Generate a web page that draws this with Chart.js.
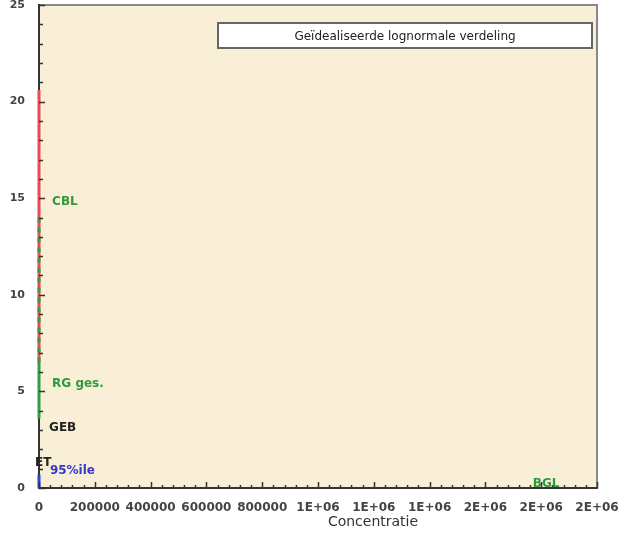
<!DOCTYPE html>
<html>
<head>
<meta charset="utf-8">
<script src="https://cdn.jsdelivr.net/npm/chart.js@4"></script>
<style>
  body { margin: 0; background: #fff; overflow: hidden; }
  canvas { display: block; }
</style>
</head>
<body>
<canvas id="myChart" width="640" height="536"></canvas>
<script>
// tick labels as printed on the x axis (every 200000)
let xTickLabels = ['0', '200000', '400000', '600000', '800000', '1E+06', '1E+06', '1E+06', '2E+06', '2E+06', '2E+06'];
let yTickValues = [0, 5, 10, 15, 20, 25];

// vertical segments drawn at concentration 0
let redY = [6.5, 20.6];
let greenY = [3.6, 6.5, 14.2];
let blueY = [0, 0.7];

// text markers
let markerNames = ['CBL', 'RG ges.', 'GEB', 'ET', '95%ile', 'BGL'];
let markerX = [47000, 47000, 36000, -14000, 39000, 1770000];
let markerY = [14.8, 5.4, 3.1, 1.3, 0.9, 0.2];

let legendText = 'Geïdealiseerde lognormale verdeling';
let xTitle = 'Concentratie';

let markerColors = ['#2f9a3c', '#2f9a3c', '#222', '#222', '#3438c8', '#2f9a3c'];

let decorations = {
    id: 'decorations',
    beforeDraw(chart) {
        let c = chart.ctx, a = chart.chartArea;
        c.save();
        c.fillStyle = '#f9efd7';
        c.fillRect(a.left, a.top, a.right - a.left, a.bottom - a.top);
        c.strokeStyle = '#888';
        c.lineWidth = 2;
        c.beginPath();
        c.moveTo(a.left, a.top);
        c.lineTo(a.right, a.top);
        c.lineTo(a.right, a.bottom);
        c.stroke();
        c.restore();
    },
    afterDraw(chart) {
        let c = chart.ctx, a = chart.chartArea;
        let xs = chart.scales.x, ys = chart.scales.y;
        c.save();
        c.strokeStyle = '#333';
        c.lineWidth = 1.5;
        c.beginPath();
        // y ticks, pointing into the plot
        for (let v = 0; v <= 25; v++) {
            let py = Math.round(ys.getPixelForValue(v)) + 0.5;
            let len = v % 5 === 0 ? 6 : 4;
            c.moveTo(a.left, py);
            c.lineTo(a.left + len, py);
        }
        // x ticks, pointing up
        for (let v = 0; v <= 2000000; v += 40000) {
            let px = Math.round(xs.getPixelForValue(v)) + 0.5;
            let len = v % 200000 === 0 ? 6 : 3;
            c.moveTo(px, a.bottom);
            c.lineTo(px, a.bottom - len);
        }
        c.stroke();

        // markers
        c.font = 'bold 12px "DejaVu Sans"';
        c.textAlign = 'left';
        c.textBaseline = 'middle';
        markerNames.forEach((name, i) => {
            c.fillStyle = markerColors[i];
            c.fillText(name, xs.getPixelForValue(markerX[i]), ys.getPixelForValue(markerY[i]));
        });

        // legend box
        let bx = a.left + 179, by = a.top + 18, bw = 374, bh = 25;
        c.fillStyle = '#fff';
        c.fillRect(bx, by, bw, bh);
        c.strokeStyle = '#666';
        c.lineWidth = 2;
        c.strokeRect(bx, by, bw, bh);
        c.fillStyle = '#222';
        c.font = '12px "DejaVu Sans"';
        c.textAlign = 'center';
        c.fillText(legendText, bx + bw / 2, by + bh / 2 + 1);

        // x axis title
        c.font = '14px "DejaVu Sans"';
        c.fillStyle = '#333';
        c.fillText(xTitle, (a.left + a.right) / 2 + 55, a.bottom + 34);
        c.restore();
    }
};

let myChart = document.getElementById('myChart').getContext('2d');
let lognormChart = new Chart(myChart, {
    type: 'scatter',
    data: {
        datasets: [
            {
                data: greenY.map(y => ({ x: 0, y: y })), borderColor: '#2f9e44',
                segment: { borderDash: ctx => ctx.p0.parsed.y >= 6.5 ? [5, 5] : undefined }
            },
            { data: redY.map(y => ({ x: 0, y: y })), borderColor: '#ec4a55' },
            { data: blueY.map(y => ({ x: 0, y: y })), borderColor: '#3340d0' }
        ].map(d => Object.assign({ showLine: true, pointRadius: 0, pointHoverRadius: 0, borderWidth: 3, clip: false }, d))
    },
    options: {
        responsive: false,
        animation: false,
        layout: { autoPadding: false, padding: { top: 5, right: 43, bottom: 0, left: 0 } },
        plugins: { legend: { display: false }, tooltip: { enabled: false } },
        scales: {
            x: {
                type: 'linear', min: 0, max: 2000000,
                afterBuildTicks: s => { s.ticks = xTickLabels.map((l, i) => ({ value: i * 200000 })); },
                afterFit: s => { s.height = 48; },
                grid: { display: false },
                border: { display: true, color: '#333', width: 2 },
                ticks: {
                    padding: 5, color: '#444', maxRotation: 0, autoSkip: false,
                    font: { family: 'DejaVu Sans', size: 12, weight: 'bold' },
                    callback: (v, i) => xTickLabels[i]
                }
            },
            y: {
                type: 'linear', min: 0, max: 25,
                afterBuildTicks: s => { s.ticks = yTickValues.map(v => ({ value: v })); },
                afterFit: s => { s.width = 39; s.paddingTop = 0; s.paddingBottom = 0; },
                grid: { display: false },
                border: { display: true, color: '#333', width: 2 },
                ticks: {
                    padding: 6, color: '#444',
                    font: { family: 'DejaVu Sans', size: 11, weight: 'bold' }
                }
            }
        }
    },
    plugins: [decorations]
});
</script>
</body>
</html>
